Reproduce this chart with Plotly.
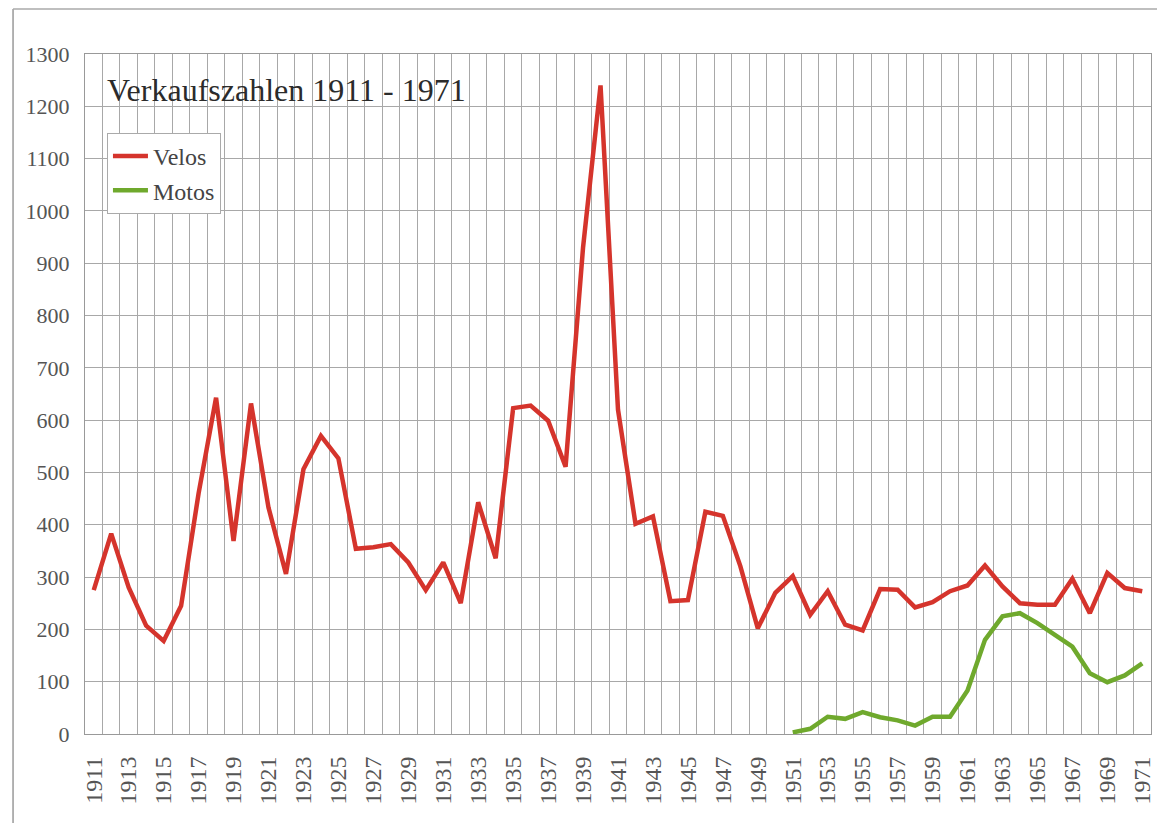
import plotly.graph_objects as go

years = list(range(1911, 1972))
velos = [275, 383, 280, 207, 178, 245, 460, 643, 369, 632,
         433, 306, 506, 570, 527, 354, 357, 363, 328, 275,
         328, 250, 443, 336, 623, 628, 599, 511, 930, 1240,
         620, 402, 416, 254, 256, 425, 417, 321, 202, 270,
         302, 228, 273, 209, 198, 277, 276, 242, 252, 273,
         284, 322, 282, 250, 247, 247, 297, 231, 308, 279, 273]
moto_years = list(range(1951, 1972))
motos = [3, 10, 33, 29, 42, 32, 26, 16, 33, 33,
         83, 180, 225, 231, 212, 189, 167, 116, 99, 112, 135]

title_text = "Verkaufszahlen 1911 - 1971"
label_ticks = list(range(1911, 1972, 2))

FONT = "Liberation Serif"

fig = go.Figure()
fig.add_trace(go.Scatter(x=years, y=velos, mode="lines", name="Velos",
                         line=dict(color="#d5342c", width=4.5)))
fig.add_trace(go.Scatter(x=moto_years, y=motos, mode="lines", name="Motos",
                         line=dict(color="#6fa92d", width=4.5)))

fig.update_layout(
    width=1165, height=823,
    margin=dict(l=77, r=22, t=46, b=97),
    paper_bgcolor="white", plot_bgcolor="white",
    font=dict(family=FONT, color="#444"),
    showlegend=True,
    legend=dict(x=0.0206, y=0.884, xanchor="left", yanchor="top",
                bgcolor="white", bordercolor="#aaa", borderwidth=1,
                font=dict(family=FONT, size=24, color="#444"),
                itemwidth=35, tracegroupgap=0),
    annotations=[dict(text=title_text, x=0.0188, y=0.947, xref="paper", yref="paper",
                      xanchor="left", yanchor="middle", showarrow=False,
                      font=dict(family=FONT, size=32, color="#2b2b2b"))],
    shapes=[
        dict(type="line", xref="paper", yref="paper", x0=-0.0675, x1=-0.0675, y0=-0.14, y1=1.066,
             line=dict(color="#999", width=1.5)),
        dict(type="line", xref="paper", yref="paper", x0=-0.0675, x1=1.02, y0=1.066, y1=1.066,
             line=dict(color="#aaa", width=1.5)),
    ],
)

fig.update_xaxes(
    range=[1910.5, 1971.5],
    tickmode="array", tickvals=label_ticks, ticktext=[str(v) for v in label_ticks],
    tickangle=-90, tickfont=dict(family=FONT, size=24, color="#555"),
    showgrid=False, zeroline=False,
    showline=True, linecolor="#999", linewidth=1, mirror=True,
    ticks="", ticklabelstandoff=12,
    minor=dict(tick0=1910.5, dtick=1, showgrid=True, gridcolor="#a8a8a8", gridwidth=1),
)
fig.update_yaxes(
    range=[0, 1300], tickmode="linear", tick0=0, dtick=100,
    tickfont=dict(family=FONT, size=22, color="#555"),
    showgrid=True, gridcolor="#a8a8a8", gridwidth=1,
    zeroline=False, showline=True, linecolor="#999", linewidth=1, mirror=True,
    ticks="", ticklabelstandoff=10,
)

fig.write_html("out.html")
